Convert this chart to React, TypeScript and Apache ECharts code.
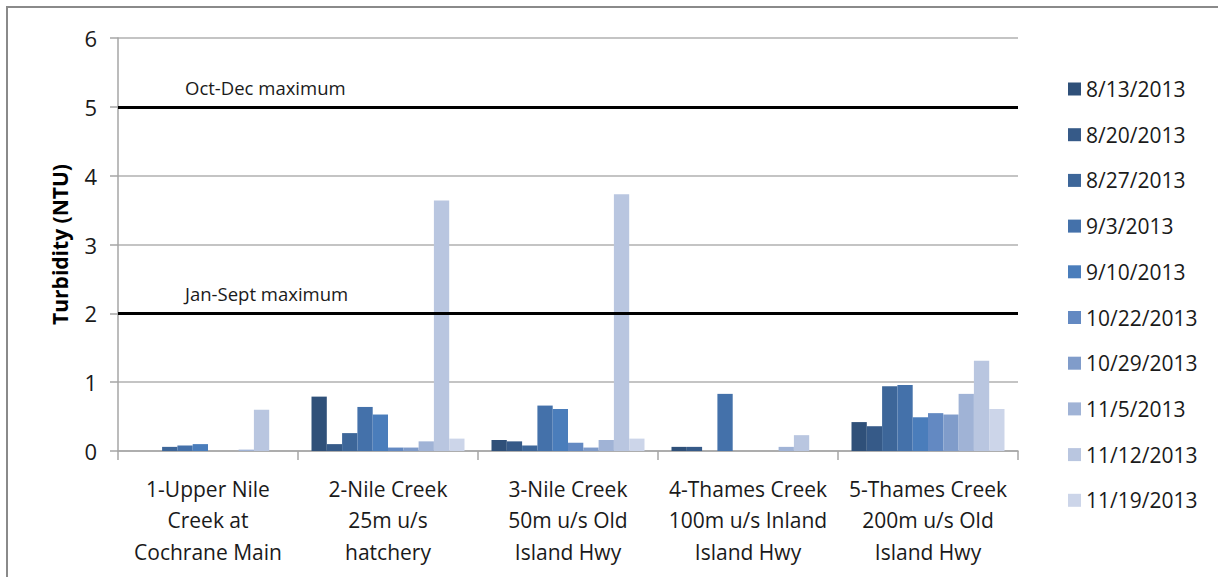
import React, { useEffect, useRef } from "react";
import * as echarts from "echarts";

const categories = [
  "1-Upper Nile\nCreek at\nCochrane Main",
  "2-Nile Creek\n25m u/s\nhatchery",
  "3-Nile Creek\n50m u/s Old\nIsland Hwy",
  "4-Thames Creek\n100m u/s Inland\nIsland Hwy",
  "5-Thames Creek\n200m u/s Old\nIsland Hwy",
];

const dates = [
  "8/13/2013",
  "8/20/2013",
  "8/27/2013",
  "9/3/2013",
  "9/10/2013",
  "10/22/2013",
  "10/29/2013",
  "11/5/2013",
  "11/12/2013",
  "11/19/2013",
];

// values per date, in category order
const v_0813 = [0, 0.79, 0.16, 0.06, 0.42];
const v_0820 = [0, 0.1, 0.14, 0.06, 0.36];
const v_0827 = [0.06, 0.26, 0.08, 0, 0.94];
const v_0903 = [0.08, 0.64, 0.66, 0.83, 0.96];
const v_0910 = [0.1, 0.53, 0.61, 0, 0.49];
const v_1022 = [0, 0.05, 0.12, 0, 0.55];
const v_1029 = [0, 0.05, 0.05, 0, 0.53];
const v_1105 = [0.02, 0.14, 0.16, 0.06, 0.83];
const v_1112 = [0.6, 3.64, 3.73, 0.23, 1.31];
const v_1119 = [0, 0.18, 0.18, 0, 0.61];

const seriesValues = [v_0813, v_0820, v_0827, v_0903, v_0910, v_1022, v_1029, v_1105, v_1112, v_1119];

const colors = [
  "#2f5079",
  "#365a88",
  "#3d6699",
  "#4471aa",
  "#4a7dbb",
  "#6389c2",
  "#809cca",
  "#a0b3d6",
  "#b9c6e0",
  "#ccd5e9",
];

const thresholds = [
  { name: "Oct-Dec maximum", value: 5 },
  { name: "Jan-Sept maximum", value: 2 },
];

const yTicks = { min: 0, max: 6, interval: 1 };

const FONT = "Open Sans";

export default function App() {
  const ref = useRef<HTMLDivElement>(null);

  useEffect(() => {
    if (!ref.current) return;
    const chart = echarts.init(ref.current, null, { renderer: "svg" });

    const series: any[] = dates.map((d, i) => ({
      name: d,
      type: "bar",
      data: seriesValues[i],
      itemStyle: { color: colors[i] },
      barGap: "0%",
      barCategoryGap: "15%",
    }));

    series[0].markLine = {
      silent: true,
      symbol: ["none", "none"],
      lineStyle: { color: "#000", width: 3, type: "solid" },
      label: {
        show: true,
        position: "insideStartTop",
        formatter: (p: any) => p.name,
        color: "#1a1a1a",
        fontFamily: FONT,
        fontSize: 18.5,
        distance: [67, 10],
      },
      data: thresholds.map((t) => ({ name: t.name, yAxis: t.value })),
    };

    chart.setOption({
      animation: false,
      backgroundColor: "#fff",
      textStyle: { fontFamily: FONT },
      graphic: [
        {
          type: "rect",
          shape: { x: 7, y: 7, width: 1400, height: 800 },
          style: { fill: "none", stroke: "#8a8a8a", lineWidth: 2 },
          silent: true,
          z: -10,
        },
      ],
      grid: { left: 118, right: 200, top: 38, bottom: 126 },
      legend: {
        orient: "vertical",
        left: 1063,
        top: 72,
        itemWidth: 13,
        itemHeight: 13,
        itemGap: 21.7,
        icon: "rect",
        textStyle: { fontFamily: FONT, fontSize: 21, color: "#1a1a1a", lineHeight: 24 },
        data: dates,
      },
      xAxis: {
        type: "category",
        data: categories,
        axisLine: { lineStyle: { color: "#a6a6a6", width: 1.5 } },
        axisTick: { show: true, length: 9, lineStyle: { color: "#a6a6a6", width: 1.5 } },
        axisLabel: {
          interval: 0,
          margin: 22,
          fontFamily: FONT,
          fontSize: 21,
          lineHeight: 31.5,
          color: "#1a1a1a",
        },
      },
      yAxis: {
        type: "value",
        min: yTicks.min,
        max: yTicks.max,
        interval: yTicks.interval,
        name: "Turbidity (NTU)",
        nameLocation: "middle",
        nameGap: 48,
        nameTextStyle: { fontFamily: FONT, fontSize: 21, fontWeight: "bold", color: "#000" },
        axisLine: { show: true, lineStyle: { color: "#a6a6a6", width: 1.5 } },
        axisTick: { show: true, length: 8, lineStyle: { color: "#a6a6a6", width: 1.5 } },
        axisLabel: { margin: 21, fontFamily: FONT, fontSize: 22, color: "#1a1a1a" },
        splitLine: { show: true, lineStyle: { color: "#b0b0b0", width: 1.5 } },
      },
      series,
    });

    return () => chart.dispose();
  }, []);

  return (
    <div
      ref={ref}
      style={{ position: "absolute", left: 0, top: 0, width: 1218, height: 577 }}
    />
  );
}
